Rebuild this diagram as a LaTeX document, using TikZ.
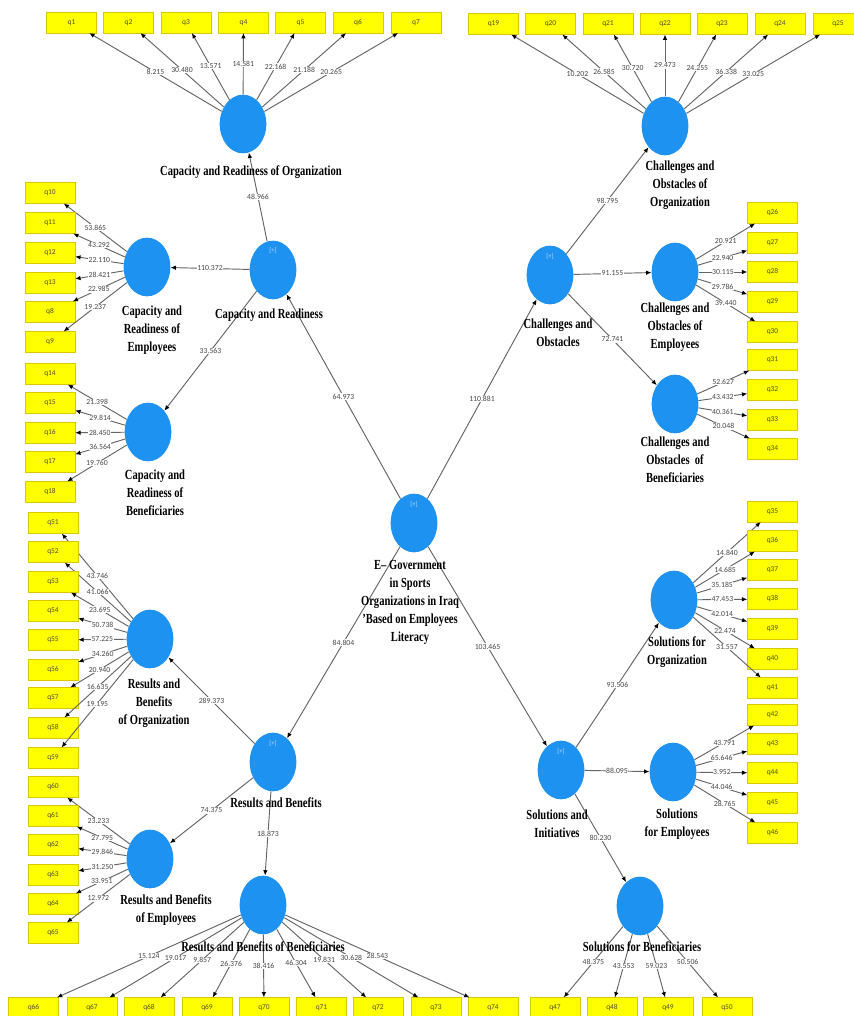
\documentclass[tikz,border=0pt]{standalone}
\usepackage{fontspec}
\usetikzlibrary{shapes.geometric,arrows.meta}
\newfontfamily\latfont{Liberation Serif}[FakeStretch=0.76,Ligatures=TeX]
\newfontfamily\numfont{Carlito}
\definecolor{plsblue}{RGB}{30,146,240}
\definecolor{qyellow}{RGB}{255,255,0}
\definecolor{qborder}{RGB}{220,200,0}
\definecolor{qtext}{RGB}{80,80,50}
\definecolor{linegray}{RGB}{100,100,100}
\definecolor{numgray}{RGB}{70,70,70}
\definecolor{pluscol}{RGB}{190,215,255}
\tikzset{
 lat/.style={ellipse, fill=plsblue, minimum width=35pt, minimum height=44pt, inner sep=0pt},
 ind/.style={rectangle, fill=qyellow, draw=qborder, line width=0.3pt, minimum width=37.5pt, minimum height=15.5pt, inner sep=0pt, font=\numfont\fontsize{5.6}{6}\selectfont, text=qtext},
 arr/.style={draw=linegray, line width=0.7pt, -{Latex[length=4pt,width=3.4pt,color=black]}},
 lab/.style={fill=white, inner sep=0.4pt, font=\numfont\fontsize{5.8}{6}\selectfont, text=numgray},
 latname/.style={font=\latfont\bfseries\fontsize{10.4}{13.5}\selectfont, align=center, inner sep=0pt},
 plus/.style={font=\numfont\fontsize{5}{5}\selectfont, text=pluscol, inner sep=0pt}
}
\begin{document}
\begin{tikzpicture}[x=0.75pt,y=-0.75pt]
\useasboundingbox[fill=white] (0,0) rectangle (853,1016);
% latent variables
\node[lat] (CRO) at (243,124) {};
\node[lat] (CR)  at (273,270) {};
\node[lat] (CRE) at (147,267) {};
\node[lat] (CRB) at (148,432) {};
\node[lat] (EG)  at (414,523) {};
\node[lat] (COO) at (665,126) {};
\node[lat] (CO)  at (550,275) {};
\node[lat] (COE) at (675,272) {};
\node[lat] (COB) at (675,404) {};
\node[lat] (SO)  at (674,600) {};
\node[lat] (SI)  at (561,770) {};
\node[lat] (SE)  at (673,772) {};
\node[lat] (SB)  at (640,906) {};
\node[lat] (RB)  at (273,762) {};
\node[lat] (RBO) at (150,639) {};
\node[lat] (RBE) at (150,859) {};
\node[lat] (RBB) at (263,905) {};
% [+] marks
\node[plus] (CRp) at (273,251) {[+]};
\node[plus] (COp) at (550,257) {[+]};
\node[plus] (EGp) at (414,505) {[+]};
\node[plus] (RBp) at (273,744) {[+]};
\node[plus] (SIp) at (561,752) {[+]};
% structural paths
\draw[arr] (EG) -- node[lab]{64.973} (CR);
\draw[arr] (EG) -- node[lab]{110.881} (CO);
\draw[arr] (EG) -- node[lab]{84.804} (RB);
\draw[arr] (EG) -- node[lab]{103.465} (SI);
\draw[arr] (CR) -- node[lab]{48.966} (CRO);
\draw[arr] (CR) -- node[lab]{110.372} (CRE);
\draw[arr] (CR) -- node[lab]{33.563} (CRB);
\draw[arr] (CO) -- node[lab]{98.795} (COO);
\draw[arr] (CO) -- node[lab]{91.155} (COE);
\draw[arr] (CO) -- node[lab]{72.741} (COB);
\draw[arr] (SI) -- node[lab]{93.506} (SO);
\draw[arr] (SI) -- node[lab]{88.095} (SE);
\draw[arr] (SI) -- node[lab]{80.230} (SB);
\draw[arr] (RB) -- node[lab]{289.373} (RBO);
\draw[arr] (RB) -- node[lab]{74.375} (RBE);
\draw[arr] (RB) -- node[lab]{18.873} (RBB);
% indicators
\foreach \n/\x/\v in {1/71.5/8.215, 2/128.5/30.480, 3/186/13.571, 4/243.5/14.581, 5/300.5/22.168, 6/358/21.188, 7/416/20.265}{
  \node[ind] (q\n) at (\x,22.5) {q\n};
  \draw[arr] (CRO) -- node[lab]{\v} (q\n);
}
\foreach \n/\x/\v in {19/493.5/10.202, 20/550.5/26.585, 21/608/30.720, 22/665/29.473, 23/722/24.255, 24/780/36.338, 25/838/33.025}{
  \node[ind] (q\n) at (\x,24) {q\n};
  \draw[arr] (COO) -- node[lab]{\v} (q\n);
}
\foreach \n/\y/\v in {10/193/53.865, 11/223/43.292, 12/253/22.110, 13/283/28.421, 8/312/22.985, 9/342/19.237}{
  \node[ind] (q\n) at (50,\y) {q\n};
  \draw[arr] (CRE) -- node[lab]{\v} (q\n);
}
\foreach \n/\y/\v in {14/374/21.398, 15/403/29.814, 16/433/28.450, 17/462/36.564, 18/492/19.760}{
  \node[ind] (q\n) at (50,\y) {q\n};
  \draw[arr] (CRB) -- node[lab]{\v} (q\n);
}
\foreach \n/\y/\v in {51/523/43.746, 52/552/41.066, 53/582/23.695, 54/611/50.738, 55/640/57.225, 56/670/34.260, 57/698/20.940, 58/728/16.635, 59/758/19.195}{
  \node[ind] (q\n) at (53,\y) {q\n};
  \draw[arr] (RBO) -- node[lab]{\v} (q\n);
}
\foreach \n/\y/\v in {60/787/23.233, 61/816/27.795, 62/845/29.846, 63/875/31.250, 64/904/33.951, 65/933/12.972}{
  \node[ind] (q\n) at (53,\y) {q\n};
  \draw[arr] (RBE) -- node[lab]{\v} (q\n);
}
\foreach \n/\y/\v in {26/213/20.921, 27/243/22.940, 28/272/30.115, 29/302/29.786, 30/332/39.440}{
  \node[ind] (q\n) at (772.5,\y) {q\n};
  \draw[arr] (COE) -- node[lab]{\v} (q\n);
}
\foreach \n/\y/\v in {31/360/52.627, 32/390/43.432, 33/420/40.361, 34/449/20.048}{
  \node[ind] (q\n) at (772.5,\y) {q\n};
  \draw[arr] (COB) -- node[lab]{\v} (q\n);
}
\foreach \n/\y/\v in {35/511.5/14.840, 36/541/14.685, 37/570/35.185, 38/599/47.453, 39/629/42.014, 40/659/22.474, 41/688/31.557}{
  \node[ind] (q\n) at (772.5,\y) {q\n};
  \draw[arr] (SO) -- node[lab]{\v} (q\n);
}
\foreach \n/\y/\v in {42/715/43.791, 43/744/65.646, 44/773/3.952, 45/803/44.046, 46/833/28.765}{
  \node[ind] (q\n) at (772.5,\y) {q\n};
  \draw[arr] (SE) -- node[lab]{\v} (q\n);
}
\foreach \n/\x/\v in {66/33.5/15.124, 67/92/19.017, 68/149/9.857, 69/207/26.376, 70/264/38.416, 71/321.5/46.304, 72/378/19.831, 73/436/30.628, 74/493/28.543}{
  \node[ind] (q\n) at (\x,1008) {q\n};
  \draw[arr] (RBB) -- node[lab]{\v} (q\n);
}
\foreach \n/\x/\v in {47/555/48.375, 48/612/43.553, 49/668/59.023, 50/727/50.506}{
  \node[ind] (q\n) at (\x,1008) {q\n};
  \draw[arr] (SB) -- node[lab]{\v} (q\n);
}
% latent variable names
\node[latname] (nCRO) at (251,172) {Capacity and Readiness of Organization};
\node[latname] (nCR)  at (269,315) {Capacity and Readiness};
\node[latname] (nCRE) at (152,330) {Capacity and\\Readiness of\\Employees};
\node[latname] (nCRB) at (155,493) {Capacity and\\Readiness of\\Beneficiaries};
\node[latname] (nEG)  at (410,602) {E– Government\\in Sports\\Organizations in Iraq\\'Based on Employees\\Literacy};
\node[latname] (nCOO) at (680,185) {Challenges and\\Obstacles of\\Organization};
\node[latname] (nCO)  at (558,333) {Challenges and\\Obstacles};
\node[latname] (nCOE) at (675,327) {Challenges and\\Obstacles of\\Employees};
\node[latname] (nCOB) at (675,460) {Challenges and\\Obstacles\ \ of\\Beneficiaries};
\node[latname] (nSO)  at (677,652) {Solutions for\\Organization};
\node[latname] (nSI)  at (557,824) {Solutions and\\Initiatives};
\node[latname] (nSE)  at (677,824) {Solutions\\for Employees};
\node[latname] (nSB)  at (642,947) {Solutions for Beneficiaries};
\node[latname] (nRB)  at (276,803) {Results and Benefits};
\node[latname] (nRBO) at (154,703) {Results and\\Benefits\\of Organization};
\node[latname] (nRBE) at (166,910) {Results and Benefits\\of Employees};
\node[latname] (nRBB) at (263,947) {Results and Benefits of Beneficiaries};
\end{tikzpicture}
\end{document}
